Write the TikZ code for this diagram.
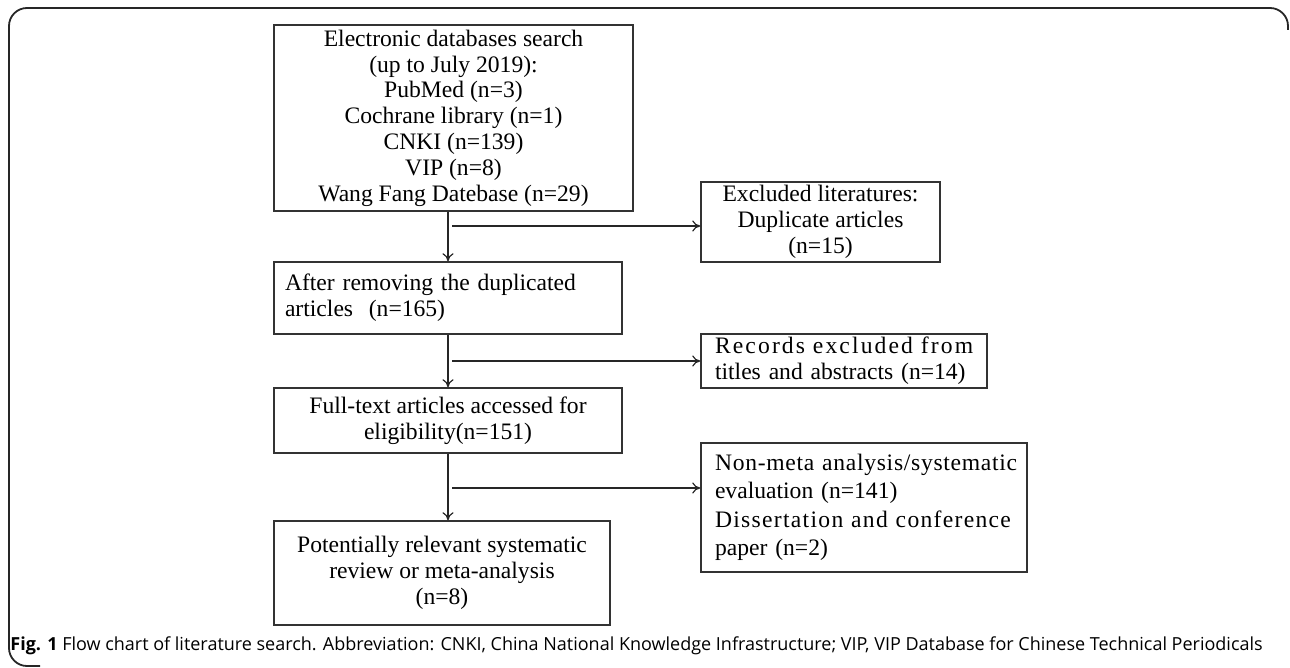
\documentclass[tikz,border=0pt]{standalone}
\usepackage{fontspec}
\setmainfont{Liberation Serif}
\newfontfamily\capfont{Open Sans}
\usetikzlibrary{arrows.meta}

\tikzset{
  box/.style={draw=black!80, line width=0.75pt, inner sep=0pt, font=\fontsize{11.8}{12.9}\selectfont},
  flow/.style={-{To[length=4pt,width=5.5pt]}, line width=0.6pt, draw=black!85},
}

\begin{document}
\begin{tikzpicture}[x=0.5pt,y=-0.5pt]
\useasboundingbox (0,0) rectangle (1290,668);

% outer frame
\draw[line width=0.9pt, black!85, rounded corners=9] (40,666) -- (9,666) -- (9,8) -- (1288,8) -- (1288,30);

\node[box, minimum width=179.5pt, minimum height=93pt, align=center] (search) at (453.5,118)
  {Electronic databases search\\(up to July 2019):\\PubMed (n=3)\\Cochrane library (n=1)\\CNKI (n=139)\\VIP (n=8)\\Wang Fang Datebase (n=29)};
\node[box, minimum width=119.5pt, minimum height=40pt, align=center] (dup) at (820.5,222)
  {Excluded literatures:\\Duplicate articles\\(n=15)};
\node[box, minimum width=174pt, minimum height=36pt, text width=163pt, align=left] (after) at (448,298)
  {After removing the duplicated\\articles~ (n=165)};
\node[box, minimum width=143pt, minimum height=27pt, text width=129pt, align=left] (records) at (844,361)
  {\mbox{\addfontfeature{LetterSpace=9}Records excluded from}\\\mbox{titles and abstracts (n=14)}};
\node[box, minimum width=174pt, minimum height=32.5pt, align=center] (full) at (448,420.5)
  {Full-text articles accessed for\\eligibility(n=151)};
\node[box, minimum width=163pt, minimum height=64.5pt, text width=149pt, align=left,
      font=\fontsize{11.8}{14.2}\selectfont] (nonmeta) at (864,507.5)
  {\mbox{\addfontfeature{LetterSpace=3}Non-meta analysis/systematic}\\\mbox{evaluation (n=141)}\\
   \mbox{\addfontfeature{LetterSpace=5.5}Dissertation and conference}\\\mbox{paper (n=2)}};
\node[box, minimum width=168pt, minimum height=52pt, align=center] (pot) at (442,573)
  {Potentially relevant systematic\\review or meta-analysis\\(n=8)};

% main flow
\draw[flow] (search.south -| after.north) -- (after.north);
\draw[flow] (after.south) -- (full.north);
\draw[flow] (full.south) -- (full.south |- pot.north);

% exclusions
\coordinate (b1) at (452,226);
\coordinate (b2) at (452,361);
\coordinate (b3) at (452,488);
\draw[flow] (b1) -- (b1 -| dup.west);
\draw[flow] (b2) -- (b2 -| records.west);
\draw[flow] (b3) -- (b3 -| nonmeta.west);

\node[anchor=west, inner sep=0pt, font=\capfont\fontsize{9}{11}\selectfont] (caption) at (10,646)
  {\textbf{Fig. 1} Flow chart of literature search. Abbreviation: CNKI, China National Knowledge Infrastructure; VIP, VIP Database for Chinese Technical Periodicals};

\end{tikzpicture}
\end{document}
